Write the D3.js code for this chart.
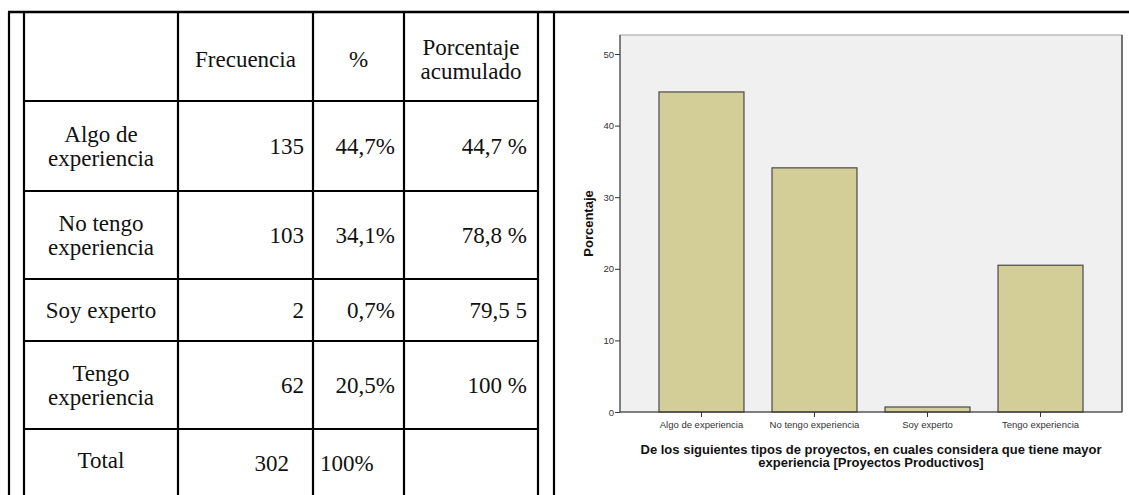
<!DOCTYPE html>
<html>
<head>
<meta charset="utf-8">
<script src="https://cdn.jsdelivr.net/npm/d3@7"></script>
<style>
  body { margin: 0; background: #fff; }
  svg { display: block; }
</style>
</head>
<body>
<svg id="chart" width="1129" height="495"></svg>
<script>
// table data
var rowLabels = [["Algo de", "experiencia"], ["No tengo", "experiencia"], ["Soy experto"], ["Tengo", "experiencia"], ["Total"]];
var frecuencias = [135, 103, 2, 62, 302];
var porcentajeTexto = ["44,7%", "34,1%", "0,7%", "20,5%", "100%"];
var acumulado = ["44,7 %", "78,8 %", "79,5 5", "100 %", ""];
var headers = [[""], ["Frecuencia"], ["%"], ["Porcentaje", "acumulado"]];

// chart data
var categories = ["Algo de experiencia", "No tengo experiencia", "Soy experto", "Tengo experiencia"];
var porcentajes = [44.7, 34.1, 0.7, 20.5];
var yTicks = [0, 10, 20, 30, 40, 50];
var xTitle = ["De los siguientes tipos de proyectos, en cuales considera que tiene mayor",
              "experiencia [Proyectos Productivos]"];
var yTitle = "Porcentaje";

var svg = d3.select("#chart");

// ---- table ----
var colX = [24, 178, 313, 404, 538];   // column borders
var rowY = [12, 101, 191, 279, 341, 429, 520]; // row borders
var SERIF = "'Liberation Serif', 'Times New Roman', serif";
var FS = 23;
var LINE = 24.5;

var tbl = svg.append("g");

// horizontal lines
tbl.selectAll("line.h").data(rowY).enter().append("line")
  .attr("x1", colX[0]).attr("x2", colX[4])
  .attr("y1", function(d) { return d; }).attr("y2", function(d) { return d; })
  .attr("stroke", "#000").attr("stroke-width", 2.2);
// top line runs across the whole page
tbl.append("line").attr("x1", 8).attr("x2", 1129).attr("y1", rowY[0]).attr("y2", rowY[0])
  .attr("stroke", "#000").attr("stroke-width", 2.5);
// vertical lines
tbl.selectAll("line.v").data(colX.concat([9, 554])).enter().append("line")
  .attr("x1", function(d) { return d; }).attr("x2", function(d) { return d; })
  .attr("y1", rowY[0]).attr("y2", 495)
  .attr("stroke", "#000").attr("stroke-width", 2.2);

function multiline(g, lines, x, yc, anchor) {
  var t = g.append("text")
    .attr("font-family", SERIF).attr("font-size", FS).attr("fill", "#111")
    .attr("text-anchor", anchor);
  var y0 = yc - (lines.length - 1) * LINE / 2;
  lines.forEach(function(l, i) {
    t.append("tspan").attr("x", x).attr("y", y0 + i * LINE).attr("dy", "0.35em").text(l);
  });
}

// headers
headers.forEach(function(h, i) {
  multiline(tbl, h, (colX[i] + colX[i + 1]) / 2, 59, "middle");
});

// body rows
rowLabels.forEach(function(lab, i) {
  var yc = (rowY[i + 1] + rowY[i + 2]) / 2;
  var last = i === rowLabels.length - 1;
  if (last) yc = 460;
  multiline(tbl, lab, (colX[0] + colX[1]) / 2, yc, "middle");
  var yv = last ? 463 : yc;
  if (last) {
    multiline(tbl, [String(frecuencias[i])], colX[2] - 24, yv, "end");
    multiline(tbl, [porcentajeTexto[i]], colX[2] + 7, yv, "start");
  } else {
    multiline(tbl, [String(frecuencias[i])], colX[2] - 9, yv, "end");
    multiline(tbl, [porcentajeTexto[i]], colX[3] - 9, yv, "end");
  }
  multiline(tbl, [acumulado[i]], colX[4] - 11, yv, "end");
});

// ---- bar chart ----
var plot = { left: 620, right: 1122, top: 35, bottom: 412 };
var SANS = "'Liberation Sans', Arial, sans-serif";

var x = d3.scaleBand().domain(categories)
  .range([plot.left, plot.right]).paddingInner(0.248).paddingOuter(0.345);
var y = d3.scaleLinear().domain([0, 50]).range([plot.bottom, 54]);

svg.append("rect")
  .attr("x", plot.left).attr("y", plot.top)
  .attr("width", plot.right - plot.left).attr("height", plot.bottom - plot.top)
  .attr("fill", "#f0f0f0").attr("stroke", "#a0a0a0").attr("stroke-width", 1);
svg.append("line").attr("x1", plot.right).attr("x2", plot.right)
  .attr("y1", plot.top).attr("y2", plot.bottom).attr("stroke", "#555").attr("stroke-width", 1.5);

svg.selectAll("rect.bar").data(porcentajes).enter().append("rect")
  .attr("class", "bar")
  .attr("x", function(d, i) { return x(categories[i]); })
  .attr("width", x.bandwidth())
  .attr("y", function(d) { return y(d); })
  .attr("height", function(d) { return y(0) - y(d); })
  .attr("fill", "#d3ce98").attr("stroke", "#4a4a4a").attr("stroke-width", 1.2);

var yAxis = svg.append("g").attr("transform", "translate(" + plot.left + ",0)")
  .call(d3.axisLeft(y).tickValues(yTicks).tickSize(5).tickPadding(1));
yAxis.select(".domain").attr("d", "M0," + plot.top + "V" + plot.bottom).attr("stroke", "#333");
yAxis.selectAll(".tick line").attr("stroke", "#333");
yAxis.selectAll("text").attr("font-family", SANS).attr("font-size", 9.5).attr("fill", "#333");

var xAxis = svg.append("g").attr("transform", "translate(0," + plot.bottom + ")")
  .call(d3.axisBottom(x).tickSize(5).tickPadding(4));
xAxis.select(".domain").attr("d", "M" + plot.left + ",0H" + plot.right).attr("stroke", "#333");
xAxis.selectAll(".tick line").attr("stroke", "#333");
xAxis.selectAll("text").attr("font-family", SANS).attr("font-size", 9.5).attr("fill", "#333");

svg.append("text")
  .attr("transform", "translate(588," + (plot.top + plot.bottom) / 2 + ") rotate(-90)")
  .attr("text-anchor", "middle").attr("dy", "0.35em")
  .attr("font-family", SANS).attr("font-weight", "bold").attr("font-size", 13)
  .attr("fill", "#111").text(yTitle);

var xt = svg.append("text").attr("text-anchor", "middle")
  .attr("font-family", SANS).attr("font-weight", "bold").attr("font-size", 13).attr("fill", "#111");
xTitle.forEach(function(l, i) {
  xt.append("tspan").attr("x", (plot.left + plot.right) / 2).attr("y", 449 + i * 13)
    .attr("dy", "0.35em").text(l);
});
</script>
</body>
</html>
